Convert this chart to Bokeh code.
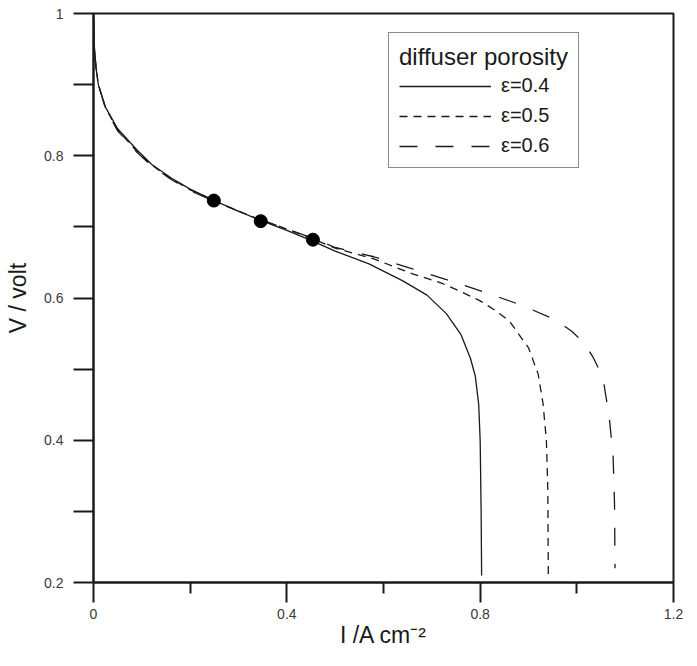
from bokeh.plotting import figure
from bokeh.models import Range1d, FixedTicker, CustomJSTickFormatter, Legend, LegendItem
from bokeh.embed import file_html
from bokeh.resources import INLINE

# ---- data ----
i_e04 = [0, 0.002, 0.005, 0.01, 0.025, 0.05, 0.09, 0.12, 0.16, 0.2, 0.25, 0.3, 0.35, 0.4, 0.45,
         0.5, 0.57, 0.64, 0.69, 0.73, 0.76, 0.78, 0.79, 0.797, 0.8, 0.802, 0.803]
v_e04 = [0.995, 0.95, 0.925, 0.90, 0.868, 0.838, 0.808, 0.788, 0.769, 0.753, 0.737, 0.722, 0.708, 0.695, 0.681,
         0.666, 0.648, 0.624, 0.604, 0.578, 0.549, 0.515, 0.49, 0.45, 0.40, 0.30, 0.21]

i_e05 = [0, 0.002, 0.005, 0.01, 0.025, 0.05, 0.09, 0.12, 0.16, 0.2, 0.25, 0.3, 0.35, 0.4, 0.45,
         0.5, 0.58, 0.66, 0.72, 0.76, 0.8, 0.83, 0.86, 0.88, 0.9, 0.92, 0.93, 0.937, 0.94, 0.941]
v_e05 = [0.995, 0.95, 0.925, 0.90, 0.867, 0.836, 0.806, 0.787, 0.768, 0.752, 0.737, 0.722, 0.709, 0.697, 0.684,
         0.670, 0.655, 0.634, 0.621, 0.609, 0.596, 0.583, 0.568, 0.549, 0.530, 0.493, 0.452, 0.40, 0.33, 0.21]

i_e06 = [0, 0.002, 0.005, 0.01, 0.025, 0.05, 0.09, 0.12, 0.16, 0.2, 0.25, 0.3, 0.35, 0.4, 0.45,
         0.5, 0.58, 0.66, 0.73, 0.81, 0.885, 0.957, 0.99, 1.016, 1.035, 1.054, 1.067, 1.075, 1.078, 1.079]
v_e06 = [0.995, 0.95, 0.925, 0.90, 0.866, 0.835, 0.805, 0.786, 0.767, 0.751, 0.736, 0.722, 0.709, 0.697, 0.685,
         0.671, 0.658, 0.641, 0.626, 0.608, 0.590, 0.569, 0.553, 0.536, 0.515, 0.488, 0.433, 0.378, 0.31, 0.22]

dot_i = [0.249, 0.346, 0.454]
dot_v = [0.737, 0.708, 0.682]

labels = ["ε=0.4", "ε=0.5", "ε=0.6"]
x_ticks = [0, 0.4, 0.8, 1.2]
x_minor = [0.2, 0.6, 1.0]
y_ticks = [0.2, 0.4, 0.6, 0.8, 1.0]
y_minor = [0.3, 0.5, 0.7, 0.9]

FONT = "Liberation Sans"
INK = "#1a1a1a"

p = figure(width=689, height=650, output_backend="svg", toolbar_location=None,
           x_range=Range1d(0, 1.2), y_range=Range1d(0.2, 1.0),
           min_border_left=93, min_border_right=16, min_border_top=13, min_border_bottom=66)
p.grid.visible = False
p.outline_line_color = INK
p.outline_line_width = 2
p.background_fill_color = "white"
p.border_fill_color = "white"

fmt = CustomJSTickFormatter(code="return Number(tick.toFixed(2)).toString();")

xa = p.xaxis[0]
xa.ticker = FixedTicker(ticks=x_ticks, minor_ticks=x_minor)
xa.formatter = fmt
xa.major_tick_out = 20
xa.major_tick_in = 0
xa.minor_tick_out = 11
xa.minor_tick_in = 0
xa.major_label_standoff = 6
xa.axis_label = "I /A cm⁻²"
xa.axis_label_standoff = 0

ya = p.yaxis[0]
ya.ticker = FixedTicker(ticks=y_ticks, minor_ticks=y_minor)
ya.formatter = fmt
ya.major_tick_out = 20
ya.major_tick_in = 0
ya.minor_tick_out = 20
ya.minor_tick_in = 0
ya.major_label_standoff = 10
ya.axis_label = "V / volt"
ya.axis_label_standoff = 10

for ax in (xa, ya):
    ax.axis_line_color = INK
    ax.axis_line_width = 2
    ax.major_tick_line_color = INK
    ax.major_tick_line_width = 2
    ax.minor_tick_line_color = INK
    ax.minor_tick_line_width = 2
    ax.major_label_text_font = FONT
    ax.major_label_text_font_size = "14px"
    ax.major_label_text_color = "#3a3a3a"
    ax.axis_label_text_font = FONT
    ax.axis_label_text_font_size = "23px"
    ax.axis_label_text_font_style = "normal"
    ax.axis_label_text_color = INK

r1 = p.line(i_e04, v_e04, line_color=INK, line_width=1.3)
r2 = p.line(i_e05, v_e05, line_color=INK, line_width=1.3, line_dash="8 6")
r3 = p.line(i_e06, v_e06, line_color=INK, line_width=1.3, line_dash="18 18")
p.scatter(dot_i, dot_v, size=13, fill_color="black", line_color="black")

legend = Legend(items=[LegendItem(label=labels[0], renderers=[r1]),
                       LegendItem(label=labels[1], renderers=[r2]),
                       LegendItem(label=labels[2], renderers=[r3])],
                location=(295, 414))
legend.title = "diffuser porosity"
legend.title_text_font = FONT
legend.title_text_font_size = "24px"
legend.title_text_font_style = "normal"
legend.title_text_color = INK
legend.title_standoff = 3
legend.label_text_font = FONT
legend.label_text_font_size = "20px"
legend.label_text_color = INK
legend.glyph_width = 92
legend.glyph_height = 20
legend.label_height = 20
legend.label_standoff = 10
legend.spacing = 7
legend.padding = 10
legend.margin = 0
legend.border_line_color = INK
legend.border_line_width = 1.5
legend.background_fill_color = "white"
legend.background_fill_alpha = 1.0
p.add_layout(legend, "center")

open("out.html", "w").write(file_html(p, INLINE))
